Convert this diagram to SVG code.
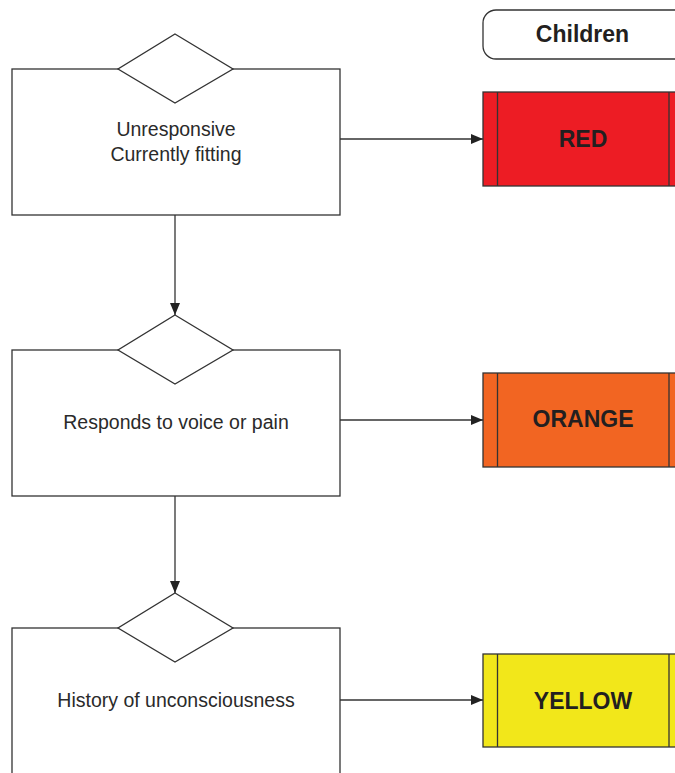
<svg xmlns="http://www.w3.org/2000/svg" width="675" height="773" viewBox="0 0 675 773">
  <style>
    .frame { fill: #ffffff; stroke: #333333; stroke-width: 1.3; }
    .band { stroke: #333333; stroke-width: 1.3; }
    .rule { fill: none; stroke: #333333; stroke-width: 1.3; }
    .label { font-family: "Liberation Sans", Arial, sans-serif; font-size: 19.5px; fill: #2a2a2a; text-anchor: middle; }
    .level { font-family: "Liberation Sans", Arial, sans-serif; font-size: 23px; font-weight: bold; fill: #231f20; text-anchor: middle; }
    .link { fill: none; stroke: #333333; stroke-width: 1.3; marker-end: url(#arrow); }
  </style>
  <defs>
    <marker id="arrow" viewBox="0 0 12 10" refX="12" refY="5" markerWidth="12" markerHeight="10" markerUnits="userSpaceOnUse" orient="auto">
      <path d="M0,0 L12,5 L0,10 Z" fill="#222222"/>
    </marker>
  </defs>
  <rect width="675" height="773" fill="#ffffff"/>

  <g id="header-children">
    <rect class="frame" x="483" y="10" width="210" height="49" rx="13" ry="13"/>
    <text class="level" x="582.5" y="41.5" font-size="22">Children</text>
  </g>

  <g id="q-unresponsive">
    <rect class="frame" x="12" y="69" width="328" height="146"/>
    <polygon class="frame" points="175,34 233,69 175,103 118,69"/>
    <text class="label" x="176" y="136">Unresponsive</text>
    <text class="label" x="176" y="161">Currently fitting</text>
  </g>

  <g id="q-responds">
    <rect class="frame" x="12" y="350" width="328" height="146"/>
    <polygon class="frame" points="175,315 233,350 175,384 118,350"/>
    <text class="label" x="176" y="429">Responds to voice or pain</text>
  </g>

  <g id="q-history">
    <rect class="frame" x="12" y="628" width="328" height="160"/>
    <polygon class="frame" points="175,593 233,628 175,662 118,628"/>
    <text class="label" x="176" y="707">History of unconsciousness</text>
  </g>

  <g id="out-red">
    <rect class="band" x="483" y="92" width="210" height="94" fill="#ed1c24"/>
    <line class="rule" x1="497.5" y1="92" x2="497.5" y2="186"/>
    <line class="rule" x1="669" y1="92" x2="669" y2="186"/>
    <text class="level" x="583" y="146.5">RED</text>
  </g>

  <g id="out-orange">
    <rect class="band" x="483" y="373" width="210" height="94" fill="#f26522"/>
    <line class="rule" x1="497.5" y1="373" x2="497.5" y2="467"/>
    <line class="rule" x1="669" y1="373" x2="669" y2="467"/>
    <text class="level" x="583" y="426.5">ORANGE</text>
  </g>

  <g id="out-yellow">
    <rect class="band" x="483" y="654" width="210" height="93" fill="#f2e71a"/>
    <line class="rule" x1="497.5" y1="654" x2="497.5" y2="747"/>
    <line class="rule" x1="669" y1="654" x2="669" y2="747"/>
    <text class="level" x="583" y="708.5">YELLOW</text>
  </g>

  <g id="connectors">
    <line class="link" x1="340" y1="139" x2="483" y2="139"/>
    <line class="link" x1="340" y1="420" x2="483" y2="420"/>
    <line class="link" x1="340" y1="700" x2="483" y2="700"/>
    <line class="link" x1="175" y1="215" x2="175" y2="315"/>
    <line class="link" x1="175" y1="496" x2="175" y2="593"/>
  </g>
</svg>
